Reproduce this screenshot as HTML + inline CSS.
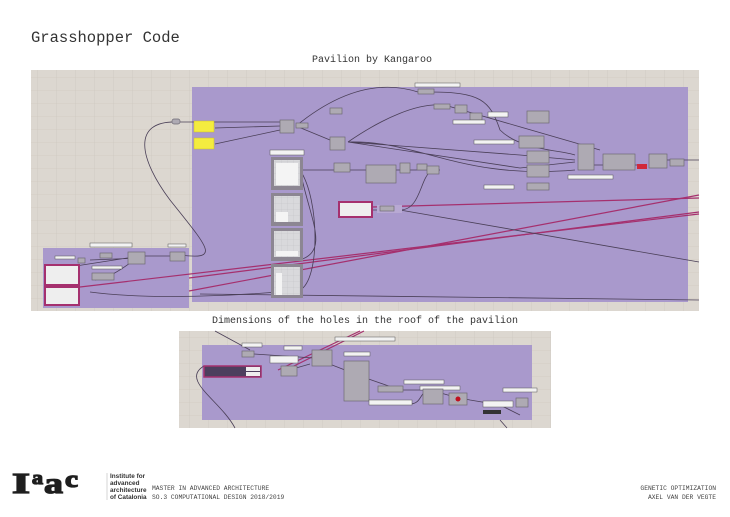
<!DOCTYPE html>
<html><head><meta charset="utf-8"><style>
html,body{margin:0;padding:0;background:#fff;width:730px;height:517px;overflow:hidden}
svg{display:block}
.mono{font-family:"Liberation Mono",monospace}
.n{fill:#aeaab3;stroke:#6e6a74;stroke-width:0.7}
.w{fill:none;stroke:#4a3f57;stroke-width:0.8}
.m{fill:none;stroke:#a5306e;stroke-width:1.2}
.l{fill:#f3f3f3;stroke:#555;stroke-width:0.5}
</style></head><body>
<svg width="730" height="517" viewBox="0 0 730 517" xmlns="http://www.w3.org/2000/svg">
<defs>
<pattern id="g" width="19" height="13" patternUnits="userSpaceOnUse">
<rect width="19" height="13" fill="#dcd7d0"/>
<path d="M19 0V13M0 13H19" stroke="#cac4bb" stroke-width="0.6"/>
</pattern>
<pattern id="gp" width="6" height="6" patternUnits="userSpaceOnUse">
<rect width="6" height="6" fill="#d9d9dc"/>
<path d="M6 0V6M0 6H6" stroke="#c2c2c6" stroke-width="0.5"/>
</pattern>
</defs>
<text class="mono" x="31" y="42" font-size="15.5" fill="#333">Grasshopper Code</text>
<text class="mono" x="372" y="62" font-size="10" fill="#333" text-anchor="middle">Pavilion by Kangaroo</text>
<text class="mono" x="365" y="323" font-size="10" fill="#333" text-anchor="middle">Dimensions of the holes in the roof of the pavilion</text>

<rect x="31" y="70" width="668" height="241" fill="url(#g)"/>
<rect x="192" y="87" width="496" height="215" fill="#a999cc"/>
<rect x="43" y="248" width="146" height="60" fill="#a999cc"/>
<path class="m" d="M189 291 L699 195"/>
<path class="m" d="M189 278 L699 212"/>
<path class="m" d="M372 207 L699 198"/>
<path class="m" d="M80 287 L699 214"/>
<path class="w" d="M178 122 C130 120 140 160 170 200 C210 250 220 260 180 255"/>
<path class="w" d="M178 122 L280 122 M215 128 L280 126 M215 144 L280 130"/>
<path class="w" d="M296 126 L330 140 M296 126 C340 90 380 80 418 92"/>
<path class="w" d="M348 142 C380 120 420 100 448 106 L600 150"/>
<path class="w" d="M348 142 L520 155 L575 160 M348 142 L520 168 L575 162 M348 142 C420 140 460 180 575 170"/>
<path class="w" d="M430 92 C480 92 490 100 500 130 C520 150 560 150 575 155"/>
<path class="w" d="M300 170 C320 200 320 280 300 290 M300 170 C310 220 330 250 300 260 M300 170 L340 170 L380 170 L440 170"/>
<path class="w" d="M355 210 L400 210 C420 210 420 180 430 172"/>
<path class="w" d="M200 294 L699 300 M400 210 L699 262"/>
<path class="w" d="M90 292 C150 300 240 296 300 290"/>
<path class="w" d="M592 165 L640 165 M660 160 L699 160"/>
<path class="w" d="M50 270 L140 256 L180 256 M90 260 L140 258 M95 280 C120 275 130 260 140 258"/>
<rect x="194" y="121" width="20" height="11" fill="#f4ec3f" stroke="#c9c02a" stroke-width="0.5"/>
<rect x="194" y="138" width="20" height="11" fill="#f4ec3f" stroke="#c9c02a" stroke-width="0.5"/>
<rect x="172" y="119" width="8" height="5" rx="2" class="n"/>
<rect x="270" y="150" width="34" height="5" class="l"/>
<rect x="271" y="157" width="32" height="33" fill="#8c8692"/><rect x="274" y="160" width="26" height="26" fill="url(#gp)"/><rect x="276" y="163" width="22" height="22" fill="#f4f4f4"/>
<rect x="271" y="193" width="32" height="33" fill="#8c8692"/><rect x="274" y="196" width="26" height="26" fill="url(#gp)"/><rect x="276" y="212" width="12" height="10" fill="#f4f4f4"/>
<rect x="271" y="228" width="32" height="33" fill="#8c8692"/><rect x="274" y="231" width="26" height="26" fill="url(#gp)"/><rect x="276" y="251" width="22" height="5" fill="#f4f4f4"/>
<rect x="271" y="264" width="32" height="34" fill="#8c8692"/><rect x="274" y="267" width="26" height="28" fill="url(#gp)"/><rect x="276" y="273" width="6" height="22" fill="#f4f4f4"/>
<rect x="280" y="120" width="14" height="13" class="n"/>
<rect x="296" y="123" width="12" height="5" class="n"/>
<rect x="330" y="137" width="15" height="13" class="n"/>
<rect x="334" y="163" width="16" height="9" class="n"/>
<rect x="366" y="165" width="30" height="18" class="n"/>
<rect x="400" y="163" width="10" height="10" class="n"/>
<rect x="417" y="164" width="10" height="6" class="n"/>
<rect x="427" y="166" width="12" height="8" class="n"/>
<rect x="330" y="108" width="12" height="6" class="n"/>
<rect x="418" y="89" width="16" height="5" class="n"/>
<rect x="434" y="104" width="16" height="5" class="n"/>
<rect x="455" y="105" width="12" height="8" class="n"/>
<rect x="470" y="113" width="12" height="7" class="n"/>
<rect x="488" y="112" width="20" height="5" class="l"/>
<rect x="527" y="111" width="22" height="12" class="n"/>
<rect x="453" y="120" width="32" height="4" class="l"/>
<rect x="474" y="140" width="40" height="4" class="l"/>
<rect x="519" y="136" width="25" height="12" class="n"/>
<rect x="527" y="151" width="22" height="12" class="n"/>
<rect x="527" y="165" width="22" height="12" class="n"/>
<rect x="527" y="183" width="22" height="7" class="n"/>
<rect x="484" y="185" width="30" height="4" class="l"/>
<rect x="578" y="144" width="16" height="26" class="n"/>
<rect x="603" y="154" width="32" height="16" class="n"/>
<rect x="637" y="164" width="10" height="5" fill="#d0283a"/>
<rect x="649" y="154" width="18" height="14" class="n"/>
<rect x="670" y="159" width="14" height="7" class="n"/>
<rect x="568" y="175" width="45" height="4" class="l"/>
<rect x="415" y="83" width="45" height="4" class="l"/>
<rect x="339" y="202" width="33" height="15" fill="#eee" stroke="#a5306e" stroke-width="2"/>
<rect x="377" y="205" width="25" height="8" fill="#b8a9d3"/>
<rect x="380" y="206" width="14" height="5" class="n"/>
<rect x="45" y="265" width="34" height="20" fill="#eee" stroke="#a5306e" stroke-width="2"/>
<rect x="45" y="287" width="34" height="18" fill="#eee" stroke="#a5306e" stroke-width="2"/>
<rect x="78" y="258" width="7" height="5" class="n"/>
<rect x="100" y="253" width="12" height="5" class="n"/>
<rect x="128" y="252" width="17" height="12" class="n"/>
<rect x="170" y="252" width="15" height="9" class="n"/>
<rect x="92" y="273" width="22" height="7" class="n"/>
<rect x="90" y="243" width="42" height="4" class="l"/>
<rect x="92" y="266" width="30" height="3" class="l"/>
<rect x="168" y="244" width="18" height="3" class="l"/>
<rect x="55" y="256" width="20" height="3" class="l"/>

<rect x="179" y="331" width="372" height="97" fill="url(#g)"/>
<rect x="202" y="345" width="330" height="75" fill="#a999cc"/>
<path class="m" d="M278 370 L360 331 M282 372 L364 331"/>
<path class="w" d="M215 331 L250 350 M204 366 C180 380 220 400 235 428 M500 420 L507 428"/>
<path class="w" d="M254 354 L314 358 L345 370 M282 372 L310 364 M360 376 L400 390 L430 390 L455 397 L470 400 L500 405 L520 415"/>
<path class="w" d="M410 404 C420 404 420 395 425 392"/>
<rect x="242" y="351" width="12" height="6" class="n"/>
<rect x="242" y="343" width="20" height="4" class="l"/>
<rect x="284" y="346" width="18" height="4" class="l"/>
<rect x="270" y="356" width="28" height="7" class="l"/>
<rect x="312" y="350" width="20" height="16" class="n"/>
<rect x="204" y="366" width="57" height="11" fill="#4d3f5e" stroke="#a5306e" stroke-width="1.5"/>
<rect x="246" y="367" width="14" height="4" fill="#eee"/><rect x="246" y="372" width="14" height="4" fill="#eee"/>
<rect x="281" y="366" width="16" height="10" class="n"/>
<rect x="344" y="361" width="25" height="40" class="n"/>
<rect x="335" y="337" width="60" height="4" class="l"/>
<rect x="344" y="352" width="26" height="4" class="l"/>
<rect x="378" y="386" width="25" height="6" class="n"/>
<rect x="404" y="380" width="40" height="4" class="l"/>
<rect x="420" y="386" width="40" height="4" class="l"/>
<rect x="423" y="389" width="20" height="15" class="n"/>
<rect x="449" y="393" width="18" height="12" class="n"/><circle cx="458" cy="399" r="2.5" fill="#c01020"/>
<rect x="369" y="400" width="43" height="5" class="l"/>
<rect x="483" y="401" width="30" height="6" class="l"/>
<rect x="483" y="410" width="18" height="4" fill="#333"/>
<rect x="503" y="388" width="34" height="4" class="l"/>
<rect x="516" y="398" width="12" height="9" class="n"/>

<!-- footer logo -->
<g style="font-family:'Liberation Serif',serif;font-weight:bold" fill="#1e1e1e" stroke="#1e1e1e" stroke-width="1.3">
<text x="12" y="493" style="font-size:29px" textLength="18" lengthAdjust="spacingAndGlyphs">I</text>
<text x="32" y="484" style="font-size:19px" textLength="11" lengthAdjust="spacingAndGlyphs">a</text>
<text x="44" y="493" style="font-size:30px" textLength="19" lengthAdjust="spacingAndGlyphs">a</text>
<text x="65" y="487" style="font-size:24px" textLength="13" lengthAdjust="spacingAndGlyphs">c</text>
</g>
<line x1="107" y1="473" x2="107" y2="500" stroke="#aaa" stroke-width="0.5"/>
<g style="font-family:'Liberation Sans',sans-serif;font-size:6.4px;font-weight:bold" fill="#333">
<text x="110" y="478">Institute for</text><text x="110" y="485">advanced</text><text x="110" y="492">architecture</text><text x="110" y="499">of Catalonia</text></g>
<text class="mono" x="152" y="490" font-size="6.3" fill="#444">MASTER IN ADVANCED ARCHITECTURE</text>
<text class="mono" x="152" y="499" font-size="6.3" fill="#444">SO.3 COMPUTATIONAL DESIGN 2018/2019</text>
<text class="mono" x="716" y="490" font-size="6.3" fill="#444" text-anchor="end">GENETIC OPTIMIZATION</text>
<text class="mono" x="716" y="499" font-size="6.3" fill="#444" text-anchor="end">AXEL VAN DER VEGTE</text>
</svg>
</body></html>
